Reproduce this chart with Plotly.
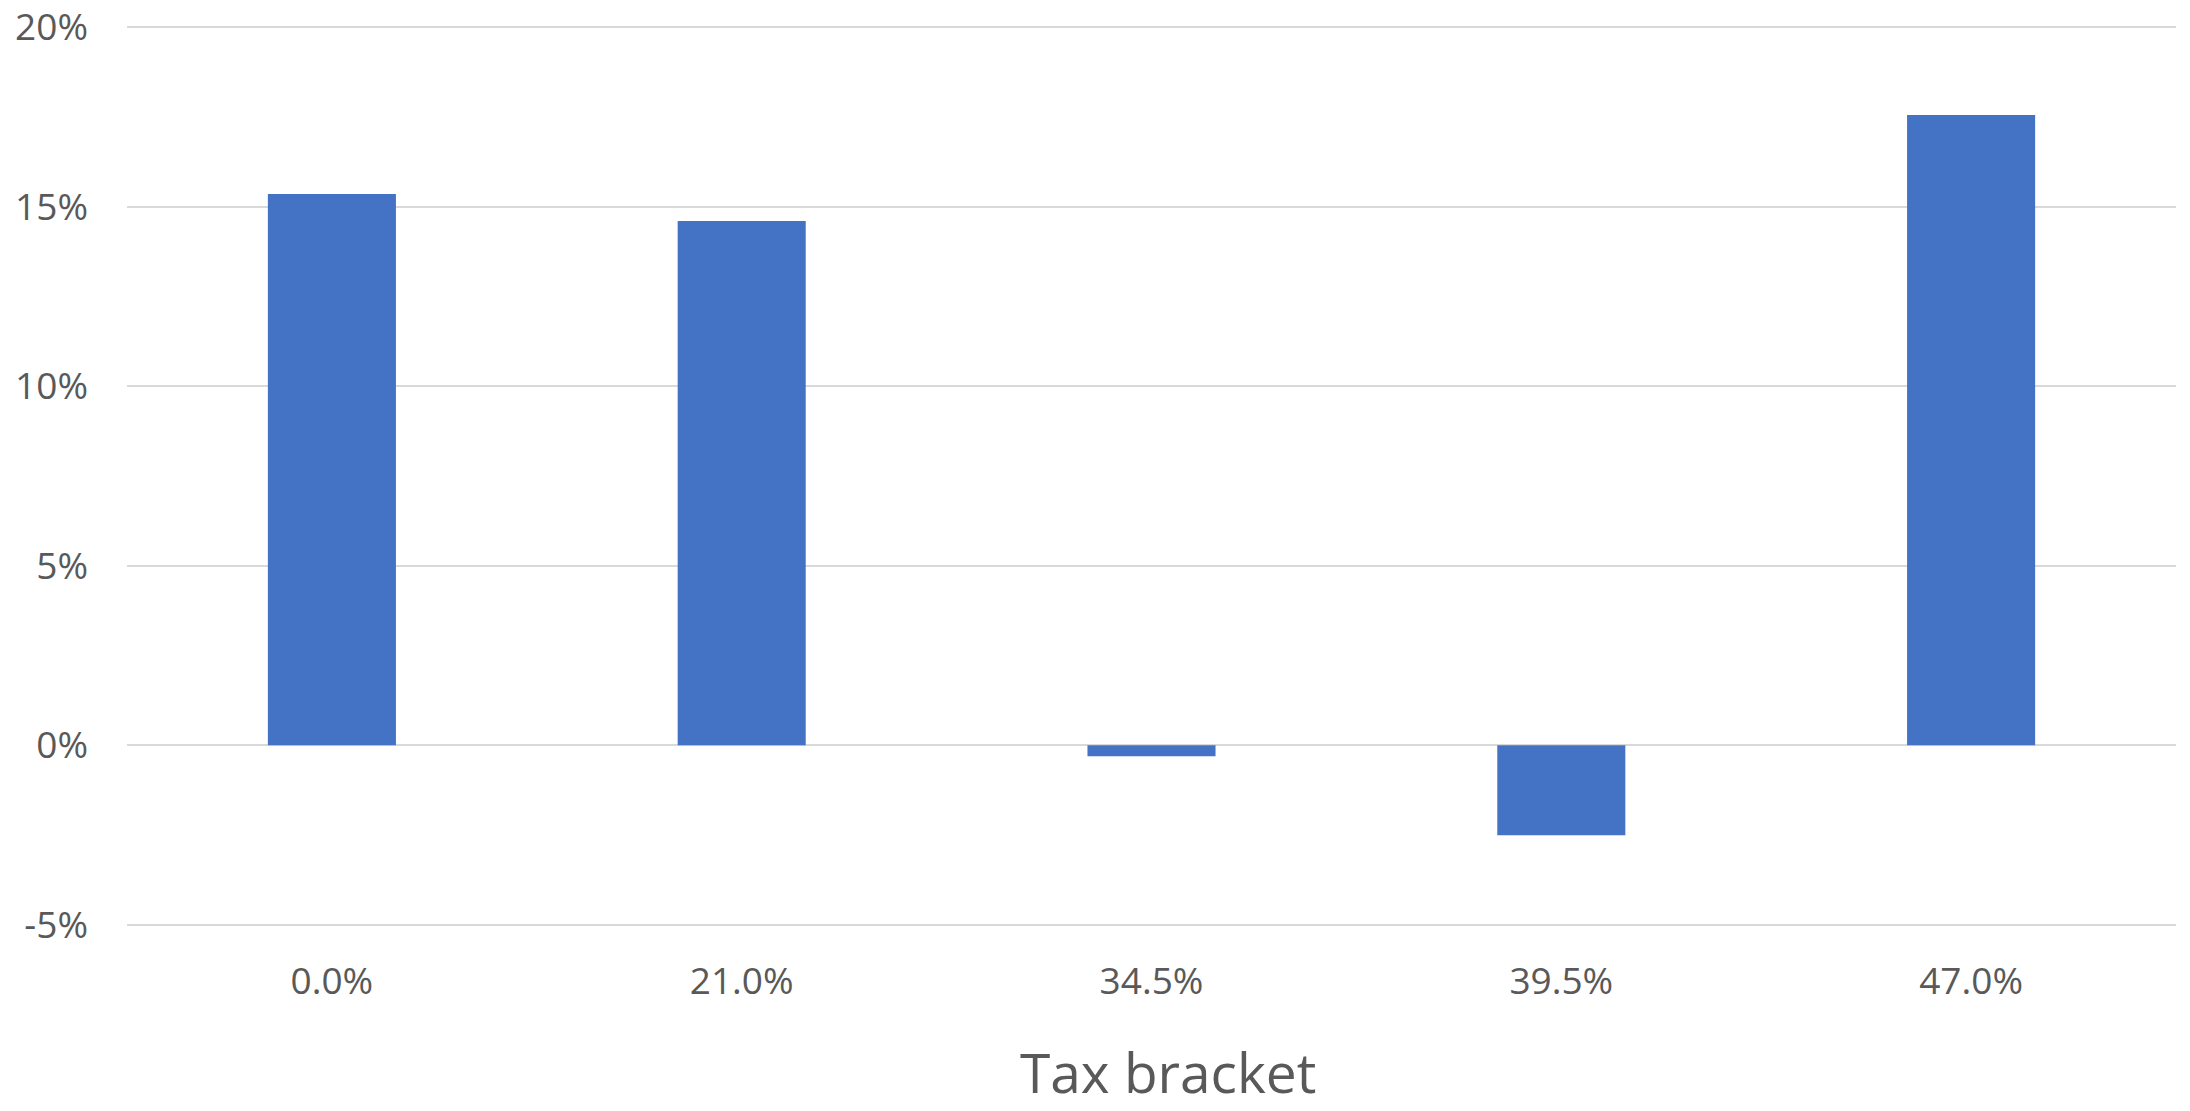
import plotly.graph_objects as go

categories = ["0.0%", "21.0%", "34.5%", "39.5%", "47.0%"]
values = [15.35, 14.6, -0.3, -2.5, 17.55]
y_ticks = [-5, 0, 5, 10, 15, 20]
y_tick_labels = ["-5%", "0%", "5%", "10%", "15%", "20%"]
x_title = "Tax bracket"

W, H = 2190, 1111
plot_left, plot_right, plot_top, plot_bottom = 127, 2176, 26, 926
ml, mr, mt, mb = plot_left, W - plot_right, plot_top, H - plot_bottom

fig = go.Figure()
fig.add_trace(go.Bar(
    x=categories, y=values,
    marker=dict(color="#4472C4", line=dict(width=0)),
    hoverinfo="x+y",
))

fig.update_layout(
    template="none",
    width=W, height=H,
    margin=dict(l=ml, r=mr, t=mt, b=mb, autoexpand=False),
    paper_bgcolor="white", plot_bgcolor="white",
    bargap=0.6875,
    showlegend=False,
    font=dict(family="Open Sans", color="#595959", size=37),
    xaxis=dict(
        type="category",
        range=[-0.5, 4.5],
        automargin=False,
        showgrid=False, zeroline=False, showline=False,
        ticks="", ticklabelstandoff=30,
        tickfont=dict(size=37, color="#595959"),
    ),
    yaxis=dict(
        range=[-5.03, 20.03],
        automargin=False,
        tickvals=y_ticks, ticktext=y_tick_labels,
        showgrid=True, gridcolor="#D9D9D9", gridwidth=1.5,
        zeroline=False, showline=False,
        ticks="", ticklabelstandoff=38, ticklabeloverflow="allow",
        tickfont=dict(size=37, color="#595959"),
    ),
    annotations=[dict(
        text=x_title, xref="paper", yref="paper",
        x=(1168 - plot_left) / (plot_right - plot_left),
        y=(plot_bottom - 1071) / (plot_bottom - plot_top),
        xanchor="center", yanchor="middle", showarrow=False,
        font=dict(size=55, color="#595959", family="Open Sans"),
    )],
)

fig.write_html(
    "out.html",
    config={"displayModeBar": False},
    post_script="document.body.style.margin='0';document.body.style.overflow='hidden';",
)
